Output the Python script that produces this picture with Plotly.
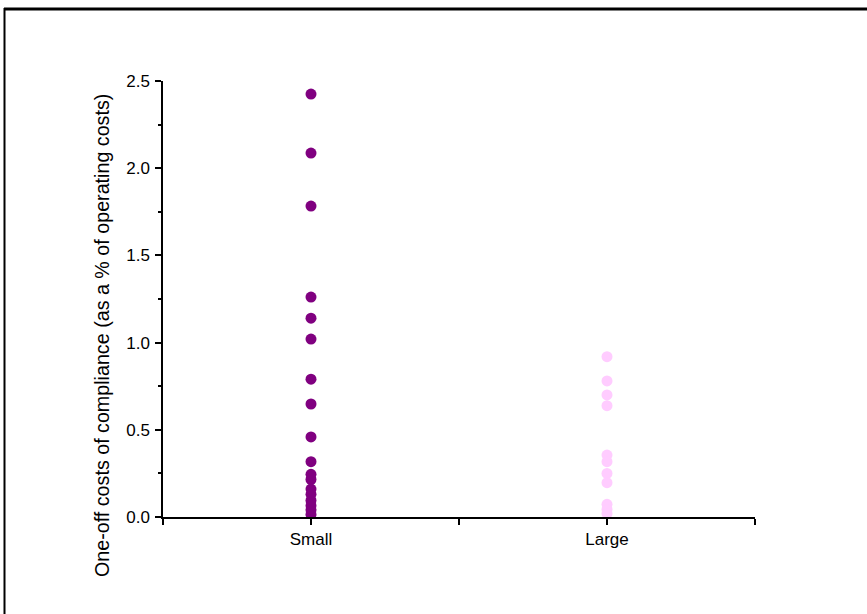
import plotly.graph_objects as go

categories = ["Small", "Large"]
small_values = [2.425, 2.087, 1.783, 1.261, 1.140, 1.020, 0.790, 0.648, 0.459, 0.317,
                0.245, 0.215, 0.160, 0.130, 0.095, 0.065, 0.040, 0.015]
large_values = [0.919, 0.780, 0.700, 0.638, 0.355, 0.317, 0.250, 0.197, 0.073, 0.045, 0.020]
x_positions = [1, 3]
tick_vals = [0, 1, 2, 3, 4]
tick_text = ["", "Small", "", "Large", ""]
y_title = "One-off costs of compliance (as a % of operating costs)"

fig = go.Figure()
fig.add_trace(go.Scatter(x=[x_positions[0]] * len(small_values), y=small_values,
                         mode="markers", name=categories[0],
                         marker=dict(color="#800080", size=11, line=dict(width=0))))
fig.add_trace(go.Scatter(x=[x_positions[1]] * len(large_values), y=large_values,
                         mode="markers", name=categories[1],
                         marker=dict(color="#FFCCFF", size=11, line=dict(width=0))))

W, H = 867, 614
L, R, T, B = 163, 755, 81, 517
pw, ph = R - L, B - T

def px(x):
    return (x - L) / pw

def py(y):
    return (B - y) / ph

fig.update_layout(
    width=W, height=H,
    margin=dict(l=L, r=W - R, t=T, b=H - B, pad=0),
    paper_bgcolor="white", plot_bgcolor="white",
    showlegend=False,
    font=dict(family="Liberation Sans, Arial, sans-serif", color="black"),
    xaxis=dict(range=[0, 4], tickvals=tick_vals, ticktext=tick_text,
               showline=True, linecolor="black", linewidth=1.5,
               ticks="outside", ticklen=6, tickwidth=1.5, tickcolor="black",
               showgrid=False, zeroline=False, tickfont=dict(size=17)),
    yaxis=dict(range=[0, 2.5], dtick=0.5, tickformat=".1f",
               showline=True, linecolor="black", linewidth=1.5,
               ticks="outside", ticklen=6, tickwidth=1.5, tickcolor="black",
               ticklabelstandoff=2,
               minor=dict(dtick=0.25, ticks="outside", ticklen=3, tickwidth=1.5, tickcolor="black"),
               showgrid=False, zeroline=False, tickfont=dict(size=17)),
    annotations=[
        dict(text=y_title, textangle=-90, xref="paper", yref="paper",
             x=px(102), y=py(336), xanchor="center", yanchor="middle",
             showarrow=False, font=dict(size=19.7)),
    ],
    shapes=[
        dict(type="line", xref="paper", yref="paper",
             x0=px(4), x1=px(W + 5), y0=py(9), y1=py(9),
             line=dict(color="black", width=3)),
        dict(type="line", xref="paper", yref="paper",
             x0=px(4.5), x1=px(4.5), y0=py(8), y1=py(H + 5),
             line=dict(color="black", width=2)),
    ],
)

fig.write_html("out.html")
